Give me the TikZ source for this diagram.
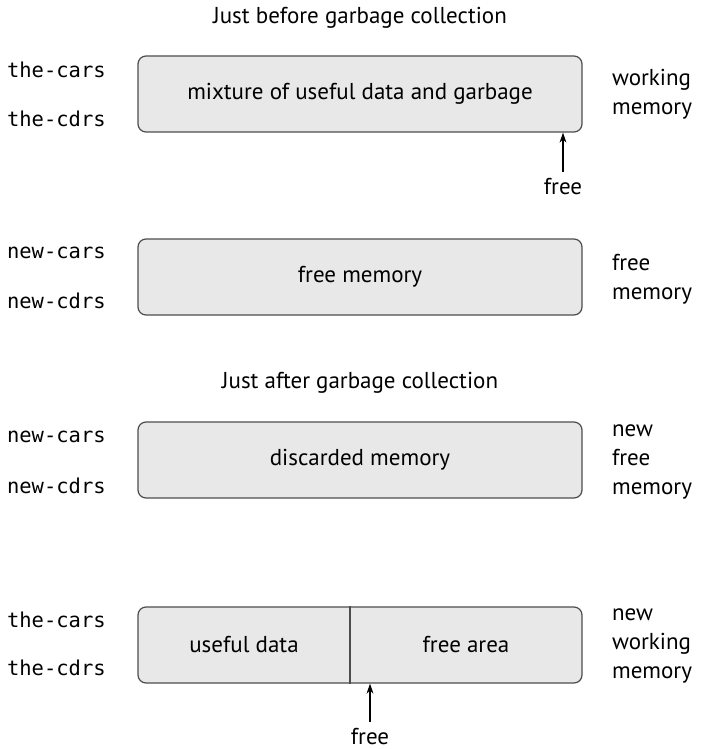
\documentclass[tikz,border=0pt]{standalone}
\usepackage{fontspec}
\setmainfont{PT Sans}
\setmonofont{DejaVu Sans Mono}[Scale=0.89]
\usetikzlibrary{arrows.meta,positioning}
\definecolor{BoxFill}{HTML}{E8E8E8}
\definecolor{BoxLine}{HTML}{4D4D4D}
\newcommand{\diagfont}{\fontsize{11.5}{14.5}\selectfont}
\tikzset{
  memblock/.style={draw=BoxLine, rounded corners=4pt, line width=0.6pt,
    minimum width=222pt, minimum height=38pt, fill=BoxFill},
  regname/.style={anchor=west, font=\diagfont\ttfamily},
  sidenote/.style={anchor=west, align=left},
  ptrarr/.style={-{Stealth[length=5pt,width=3.4pt]}, line width=0.6pt},
}
\begin{document}
\begin{tikzpicture}[x=0.5pt, y=-0.5pt, font=\diagfont]
  \useasboundingbox[fill=white] (0,0) rectangle (702,749);
  % before collection
  \node (title1) at (360,18) {Just before garbage collection};
  \node[memblock] (work) at (360,94) {mixture of useful data and garbage};
  \node[regname] (cars1) at (0,70) {the-cars};
  \node[regname] (cdrs1) at (0,119) {the-cdrs};
  \node[sidenote] (side1) at (605,94) {working\\memory};
  \node (free1) at (563,187) {free};
  \draw[ptrarr] (free1.north) -- (free1.north |- work.south);

  \node[memblock] (spare) at (360,277) {free memory};
  \node[regname] (newcars1) at (0,253) {new-cars};
  \node[regname] (newcdrs1) at (0,301) {new-cdrs};
  \node[sidenote] (side2) at (605,279) {free\\memory};

  % after collection
  \node (title2) at (360,383) {Just after garbage collection};
  \node[memblock] (old) at (360,460) {discarded memory};
  \node[regname] (newcars2) at (0,437) {new-cars};
  \node[regname] (newcdrs2) at (0,486) {new-cdrs};
  \node[sidenote] (side3) at (605,462) {new\\free\\memory};

  \node[memblock] (fresh) at (360,645) {};
  \coordinate (split) at (350,645);
  \draw[BoxLine, line width=0.6pt] (split |- fresh.north) -- (split |- fresh.south);
  \node (useful) at (244,645) {useful data};
  \node (area) at (466,645) {free area};
  \node[regname] (cars2) at (0,620) {the-cars};
  \node[regname] (cdrs2) at (0,668) {the-cdrs};
  \node[sidenote] (side4) at (605,646) {new\\working\\memory};
  \node (free2) at (370,737) {free};
  \draw[ptrarr] (free2.north) -- (free2.north |- fresh.south);
\end{tikzpicture}
\end{document}
